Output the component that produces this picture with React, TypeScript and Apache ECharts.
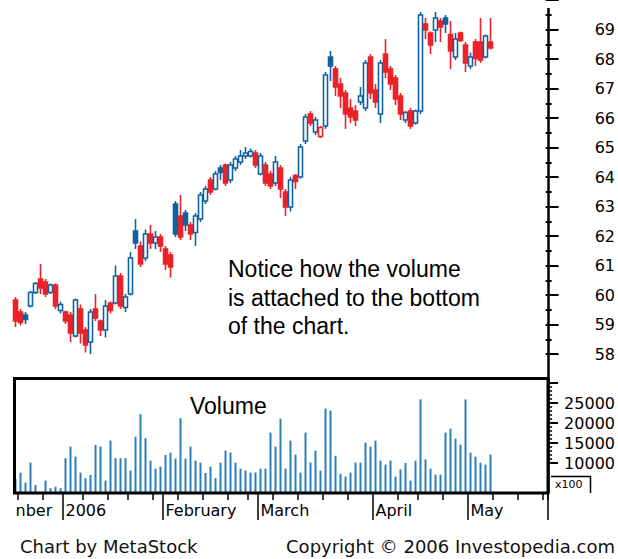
import React, { useEffect, useRef } from "react";
import * as echarts from "echarts";

// Trading days (Dec 2005 - May 2006)
const decDays = [16, 19, 20, 21, 22, 23, 27, 28, 29, 30];
const janDays = [3, 4, 5, 6, 9, 10, 11, 12, 13, 17, 18, 19, 20, 23, 24, 25, 26, 27, 30, 31];
const febDays = [1, 2, 3, 6, 7, 8, 9, 10, 13, 14, 15, 16, 17, 21, 22, 23, 24, 27, 28];
const marDays = [1, 2, 3, 6, 7, 8, 9, 10, 13, 14, 15, 16, 17, 20, 21, 22, 23, 24, 27, 28, 29, 30, 31];
const aprDays = [3, 4, 5, 6, 7, 10, 11, 12, 13, 17, 18, 19, 20, 21, 24, 25, 26, 27, 28];
const mayDays = [1, 2, 3, 4, 5, 8, 9, 10, 11, 12, 15, 16, 17, 18, 19, 22];

const monthLabels: Record<number, string> = { 1: "2006", 2: "February", 3: "March", 4: "April", 5: "May" };
const clippedFirstLabel = "nber";

const openP = [
  59.8, 59.4, 59.3, 59.6, 60.05, 60.5, 60.4, 60.05, 60.3, 59.45,
  59.4, 59.3, 58.6, 59.5, 58.8, 58.4, 59.5, 59.1, 58.8, 59.7,
  59.7, 60.6, 59.55, 60.0, 62.1, 61.6, 61.2, 62.0, 61.7, 61.9,
  61.5, 61.3, 63.0, 62.6, 62.7, 62.3, 62.05, 62.5, 63.1, 63.8,
  63.5, 64.2, 64.3, 63.8, 64.2, 64.4, 64.6, 64.6, 64.7, 64.0,
  64.3, 64.0, 63.7, 64.2, 63.4, 62.9, 63.95, 63.9, 65.1, 66.0,
  65.4, 65.25, 65.6, 67.9, 67.5, 67.0, 66.7, 66.2, 66.1, 66.4,
  66.2, 67.9, 66.8, 66.0, 68.0, 67.5, 67.2, 66.6, 65.8, 66.1,
  65.7, 66.1, 69.0, 68.7, 68.8, 69.1, 69.2, 68.65, 67.9, 68.7,
  68.3, 67.6, 68.4, 68.4, 67.9, 68.4,
];
const highP = [
  59.9, 59.5, 59.4, 60.1, 60.4, 61.0, 60.5, 60.35, 60.35, 59.75,
  59.45, 59.4, 59.85, 59.65, 58.9, 59.5, 60.0, 59.15, 59.8, 59.75,
  60.95, 60.7, 60.0, 61.4, 62.5, 61.75, 62.15, 62.3, 62.1, 62.0,
  61.6, 61.4, 63.1, 63.3, 62.8, 62.4, 62.7, 63.4, 63.6, 63.9,
  64.1, 64.3, 64.35, 64.4, 64.6, 64.8, 64.9, 64.85, 64.8, 64.7,
  64.4, 64.1, 64.6, 64.3, 63.5, 63.9, 64.0, 65.0, 66.0, 66.1,
  65.9, 65.6, 67.4, 68.1, 67.6, 67.2, 66.8, 66.5, 66.3, 66.9,
  67.8, 68.0, 67.0, 67.8, 68.5, 67.6, 67.3, 66.7, 66.1, 66.2,
  66.15, 69.4, 69.2, 68.75, 69.4, 69.2, 69.3, 69.1, 68.7, 68.75,
  68.4, 68.05, 68.5, 69.2, 68.65, 69.2,
];
const lowP = [
  58.9, 58.95, 59.0, 59.55, 60.0, 60.0, 59.9, 60.0, 59.5, 59.35,
  59.0, 58.4, 58.55, 58.35, 58.05, 58.0, 59.1, 58.6, 58.55, 59.35,
  59.65, 59.5, 59.4, 59.95, 61.5, 60.9, 61.1, 61.5, 61.5, 61.4,
  60.8, 60.55, 61.9, 61.8, 62.1, 61.8, 61.6, 62.4, 63.0, 63.3,
  63.45, 63.8, 63.6, 63.7, 64.1, 64.3, 64.5, 64.55, 64.2, 63.95,
  63.6, 63.5, 63.6, 63.2, 62.6, 62.75, 63.5, 63.85, 65.0, 65.6,
  65.3, 65.2, 65.5, 67.1, 66.6, 66.2, 65.5, 65.7, 65.6, 66.3,
  66.1, 66.5, 66.2, 65.7, 67.2, 66.8, 66.3, 65.8, 65.7, 65.5,
  65.65, 66.0, 68.5, 68.0, 68.4, 68.4, 68.7, 67.5, 67.8, 68.4,
  67.4, 67.5, 67.6, 67.7, 67.85, 68.15,
];
const closeP = [
  59.1, 59.05, 59.15, 60.05, 60.35, 60.2, 60.0, 60.3, 59.6, 59.65,
  59.1, 58.7, 59.8, 58.7, 58.3, 59.4, 59.2, 58.8, 59.6, 59.45,
  60.6, 59.6, 59.9, 61.2, 61.7, 61.0, 62.0, 61.7, 61.9, 61.6,
  61.0, 60.9, 62.0, 61.9, 62.3, 62.0, 62.6, 63.3, 63.5, 63.4,
  64.0, 64.05, 63.7, 64.3, 64.5, 64.6, 64.7, 64.75, 64.3, 64.6,
  63.7, 63.6, 64.4, 63.5, 62.9, 63.8, 63.75, 64.9, 65.9, 65.7,
  65.8, 65.55, 67.3, 67.6, 66.9, 66.6, 66.0, 65.9, 65.8, 66.6,
  67.7, 66.7, 66.4, 67.7, 67.4, 67.0, 66.5, 66.0, 66.05, 65.6,
  66.1, 69.3, 68.8, 68.3, 69.2, 68.9, 69.0, 68.1, 68.5, 68.45,
  67.7, 67.9, 67.85, 67.8, 68.6, 68.2,
];
// volume in shares (axis labels are x100)
const volume = [
  6000, 7600, 5100, 10100, 4500, 2500, 5600, 3700, 4100, 3700,
  11200, 14100, 11600, 7600, 6200, 7000, 14500, 14100, 5600, 15600,
  11200, 11200, 11200, 8100, 16600, 22200, 16200, 10600, 8600, 9100,
  12000, 12600, 11100, 21200, 11100, 14100, 10600, 10100, 7500, 9100,
  6200, 10100, 13100, 12600, 10100, 8600, 8100, 7600, 7600, 8600,
  8600, 17600, 14100, 21100, 8600, 15600, 12100, 7600, 17600, 10100,
  13100, 8100, 23600, 23100, 11800, 7300, 6600, 7600, 10100, 10100,
  15100, 14100, 15600, 10600, 9600, 10600, 6600, 8400, 10000, 5600,
  10600, 25900, 10900, 8600, 7100, 7100, 17600, 18600, 16100, 14600,
  25900, 12600, 11600, 10100, 9600, 12100,
];

const BLUE = "#10629e";
const RED = "#ec2228";
const VOL_BLUE = "#2a7fb8";

type TD = { y: number; m: number; d: number };
const tradingDays: TD[] = [
  ...decDays.map((d) => ({ y: 2005, m: 12, d })),
  ...janDays.map((d) => ({ y: 2006, m: 1, d })),
  ...febDays.map((d) => ({ y: 2006, m: 2, d })),
  ...marDays.map((d) => ({ y: 2006, m: 3, d })),
  ...aprDays.map((d) => ({ y: 2006, m: 4, d })),
  ...mayDays.map((d) => ({ y: 2006, m: 5, d })),
];
const pad = (n: number) => (n < 10 ? "0" + n : String(n));
const categories = tradingDays.map((t) => `${t.y}-${pad(t.m)}-${pad(t.d)}`);
const weekday = tradingDays.map((t) => new Date(t.y, t.m - 1, t.d).getDay());
const isMonthStart = tradingDays.map((t, i) => i > 0 && t.m !== tradingDays[i - 1].m);
const isWeekStart = tradingDays.map((t, i) => i > 0 && weekday[i] < weekday[i - 1]);

export default function App() {
  const ref = useRef<HTMLDivElement>(null);
  useEffect(() => {
    if (!ref.current) return;
    const chart = echarts.init(ref.current, undefined, { renderer: "svg" });

    const candleData = closeP.map((c, i) => {
      const o = openP[i];
      const prev = i === 0 ? o : closeP[i - 1];
      const col = c >= prev ? BLUE : RED;
      const hollow = c > o;
      const fill = hollow ? "#ffffff" : col;
      return {
        value: [o, c, lowP[i], highP[i]],
        itemStyle: { color: fill, color0: fill, borderColor: col, borderColor0: col, borderWidth: 1.6 },
      };
    });

    const black = "#000000";
    const labelFont = "DejaVu Sans";

    const option: any = {
      animation: false,
      backgroundColor: "#ffffff",
      grid: [
        { left: 13, right: 70, top: 6, height: 372 },
        { left: 13, right: 70, top: 378, height: 115 },
        { left: 13, right: 70, top: -6, height: 360 },
        { left: 13, right: 70, top: 383, height: 80 },
      ],
      xAxis: [
        { type: "category", gridIndex: 0, data: categories, show: false },
        {
          type: "category",
          gridIndex: 1,
          data: categories,
          axisLine: { show: false, onZero: false },
          axisTick: {
            show: true,
            interval: (i: number) => isWeekStart[i] && !isMonthStart[i],
            length: 7,
            lineStyle: { color: black, width: 1.5 },
          },
          axisLabel: { show: false },
          splitLine: { show: false },
        },
        {
          type: "category",
          gridIndex: 1,
          data: categories,
          position: "bottom",
          axisLine: { show: false, onZero: false },
          axisTick: {
            show: true,
            interval: (i: number) => isMonthStart[i],
            length: 27,
            lineStyle: { color: black, width: 1.5 },
          },
          axisLabel: {
            show: true,
            interval: (i: number) => i === 0 || isMonthStart[i],
            formatter: (_v: string, i: number) => (i === 0 ? clippedFirstLabel : monthLabels[tradingDays[i].m] || ""),
            align: "left",
            margin: 9,
            color: black,
            fontFamily: labelFont,
            fontSize: 16,
          },
          splitLine: { show: false },
        },
        { type: "value", gridIndex: 2, show: false, min: 0, max: 1 },
        { type: "value", gridIndex: 3, show: false, min: 0, max: 1 },
      ],
      yAxis: [
        { type: "value", gridIndex: 0, min: 57.2, max: 69.6, show: false },
        { type: "value", gridIndex: 1, min: 2500, max: 31250, show: false },
        {
          type: "value",
          gridIndex: 2,
          position: "right",
          min: 58,
          max: 70,
          interval: 1,
          axisLine: { show: false, onZero: false },
          axisTick: { show: true, length: 13, lineStyle: { color: black, width: 2 } },
          minorTick: { show: true, splitNumber: 2, length: 6, lineStyle: { color: black, width: 2 } },
          axisLabel: {
            margin: 49,
            formatter: (v: number) => (v >= 70 ? "" : String(v)),
            color: black,
            fontFamily: labelFont,
            fontSize: 16,
            padding: [6, 0, 0, 0],
          },
          splitLine: { show: false },
          minorSplitLine: { show: false },
        },
        {
          type: "value",
          gridIndex: 3,
          position: "right",
          min: 10000,
          max: 30000,
          interval: 5000,
          axisLine: { show: false, onZero: false },
          axisTick: { show: true, length: 11, lineStyle: { color: black, width: 2 } },
          minorTick: { show: true, splitNumber: 5, length: 5, lineStyle: { color: black, width: 1.5 } },
          axisLabel: {
            margin: 17,
            formatter: (v: number) => (v >= 30000 ? "" : String(v)),
            color: black,
            fontFamily: labelFont,
            fontSize: 16,
          },
          splitLine: { show: false },
          minorSplitLine: { show: false },
        },
      ],
      series: [
        {
          type: "candlestick",
          xAxisIndex: 0,
          yAxisIndex: 0,
          data: candleData,
          barWidth: 4,
        },
        {
          type: "bar",
          xAxisIndex: 1,
          yAxisIndex: 1,
          data: volume,
          barWidth: 2,
          itemStyle: { color: VOL_BLUE },
        },
      ],
      graphic: [
        {
          type: "rect",
          z: 100,
          shape: { x: 14.5, y: 378.5, width: 533.5, height: 114.5 },
          style: { fill: "none", stroke: black, lineWidth: 3 },
        },
        {
          type: "line",
          z: 100,
          shape: { x1: 548.5, y1: 8, x2: 548.5, y2: 493 },
          style: { stroke: black, lineWidth: 2.5 },
        },
        {
          type: "polyline",
          z: 100,
          shape: { points: [[551, 476.5], [590.5, 476.5], [590.5, 493]] },
          style: { fill: "none", stroke: black, lineWidth: 1.5 },
        },
        {
          type: "text",
          z: 100,
          x: 555,
          y: 484.5,
          style: { text: "x100", fill: black, font: `11px "${labelFont}"`, verticalAlign: "middle" },
        },
        {
          type: "text",
          z: 100,
          x: 190,
          y: 405.5,
          style: { text: "Volume", fill: black, font: '23px "Liberation Sans", Arial, sans-serif', verticalAlign: "middle" },
        },
        {
          type: "text",
          z: 100,
          x: 228,
          y: 268.5,
          style: { text: "Notice how the volume", fill: black, font: '23px "Liberation Sans", Arial, sans-serif', verticalAlign: "middle" },
        },
        {
          type: "text",
          z: 100,
          x: 228,
          y: 297.5,
          style: { text: "is attached to the bottom", fill: black, font: '23px "Liberation Sans", Arial, sans-serif', verticalAlign: "middle" },
        },
        {
          type: "text",
          z: 100,
          x: 228,
          y: 325.5,
          style: { text: "of the chart.", fill: black, font: '23px "Liberation Sans", Arial, sans-serif', verticalAlign: "middle" },
        },
        {
          type: "text",
          z: 100,
          x: 20,
          y: 546.5,
          style: { text: "Chart by MetaStock", fill: "#111111", font: `18px "${labelFont}"`, verticalAlign: "middle" },
        },
        {
          type: "text",
          z: 100,
          x: 615,
          y: 546.5,
          style: { text: "Copyright \u00a9 2006 Investopedia.com", fill: "#111111", font: `18px "${labelFont}"`, align: "right", verticalAlign: "middle" },
        },
      ],
    };

    chart.setOption(option);
    return () => chart.dispose();
  }, []);

  return (
    <div
      ref={ref}
      style={{ position: "absolute", left: 0, top: 0, width: 618, height: 559, background: "#ffffff" }}
    />
  );
}
